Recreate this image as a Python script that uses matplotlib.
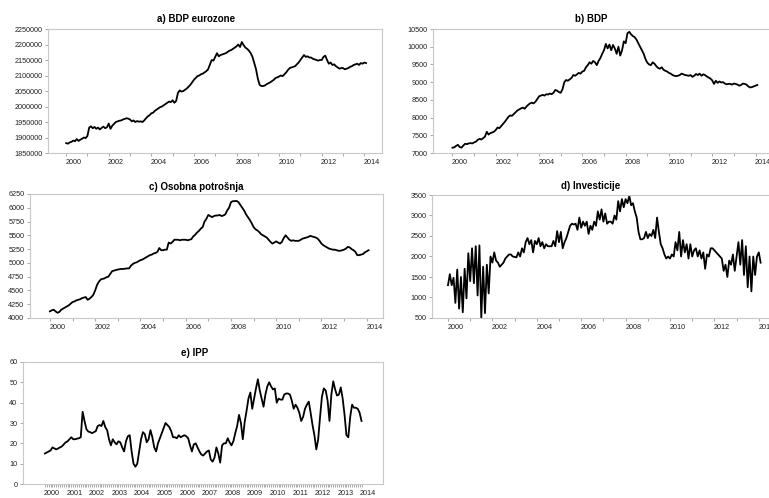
import numpy as np
import matplotlib
matplotlib.use("Agg")
import matplotlib.pyplot as plt

plt.rcParams['font.family'] = ['Liberation Sans', 'DejaVu Sans']

# ---------------- data (monthly, starting Jan 2000) ----------------
titles = ["a) BDP eurozone", "b) BDP", "c) Osobna potrošnja", "d) Investicije", "e) IPP"]

# a) euro area GDP, thousands
bdp_eurozone_k = [
    1882, 1880, 1884, 1886, 1890, 1888, 1895, 1889, 1893, 1896, 1900, 1898,
    1905, 1932, 1936, 1930, 1934, 1928, 1932, 1926, 1931, 1935, 1930, 1933,
    1945, 1928, 1938, 1944, 1950, 1952, 1954, 1955, 1958, 1960, 1962, 1961,
    1958, 1952, 1955, 1950, 1953, 1951, 1952, 1950, 1955, 1962, 1968, 1972,
    1978, 1980, 1986, 1990, 1994, 1998, 2000, 2004, 2008, 2012, 2016, 2014,
    2020, 2012, 2018, 2044, 2052, 2048, 2050, 2054, 2058, 2064, 2070, 2078,
    2086, 2092, 2098, 2100, 2104, 2106, 2110, 2114, 2120, 2135, 2150, 2148,
    2160, 2172, 2162, 2166, 2168, 2170, 2172, 2176, 2180, 2182, 2186, 2190,
    2194, 2200, 2192, 2208, 2198, 2190, 2186, 2180, 2172, 2160, 2140, 2120,
    2090, 2070, 2066, 2066, 2068, 2072, 2075, 2078, 2082, 2086, 2092, 2094,
    2097, 2100, 2098, 2104, 2110, 2118, 2124, 2126, 2128, 2130, 2136, 2142,
    2150, 2158, 2166, 2160, 2162, 2158, 2158, 2154, 2152, 2150, 2148, 2150,
    2150, 2160, 2164, 2150, 2138, 2142, 2134, 2136, 2130, 2126, 2122, 2124,
    2124, 2120, 2122, 2124, 2128, 2130, 2134, 2136, 2138, 2134, 2140, 2138,
    2142, 2140,
]

# b) GDP
bdp = [
    7150, 7160, 7200, 7230, 7170, 7150, 7210, 7260, 7250, 7270, 7280, 7270,
    7300, 7320, 7370, 7400, 7380, 7420, 7460, 7600, 7520, 7560, 7580, 7600,
    7650, 7720, 7700, 7760, 7820, 7880, 7950, 8020, 8060, 8050, 8100, 8150,
    8200, 8230, 8260, 8280, 8250, 8310, 8360, 8400, 8420, 8400, 8450, 8520,
    8600, 8620, 8640, 8620, 8660, 8650, 8680, 8660, 8700, 8780, 8760, 8720,
    8700, 8800, 9000, 9060, 9040, 9080, 9120, 9200, 9180, 9220, 9260, 9240,
    9300, 9320, 9420, 9480, 9560, 9520, 9600, 9560, 9480, 9600, 9680, 9800,
    9900, 10080, 9950, 10060, 9900, 10050, 9950, 9800, 10000, 9750, 9900, 10150,
    10100, 10380, 10420, 10350, 10300, 10270, 10200, 10100, 10000, 9900, 9800, 9650,
    9550, 9500, 9480, 9560, 9520, 9450, 9400, 9380, 9420, 9350, 9320, 9300,
    9260, 9240, 9200, 9180, 9170, 9180, 9200, 9240, 9220, 9200, 9190, 9180,
    9200, 9150, 9180, 9230, 9200, 9240, 9180, 9220, 9200, 9160, 9130, 9100,
    9050, 8950, 9040, 8980, 9020, 8990, 9000, 8960, 8940, 8950, 8950, 8930,
    8960, 8950, 8930, 8900, 8920, 8960, 8950, 8930, 8880, 8850, 8860, 8880,
    8900, 8920,
]

# c) personal consumption
osobna_potrosnja = [
    4120, 4140, 4150, 4120, 4095, 4110, 4150, 4170, 4190, 4210, 4230, 4260,
    4290, 4300, 4320, 4330, 4340, 4360, 4370, 4380, 4330, 4350, 4380, 4420,
    4500, 4600, 4660, 4700, 4710, 4720, 4740, 4750, 4800, 4850, 4860, 4870,
    4880, 4885, 4890, 4890, 4895, 4900, 4900, 4950, 4980, 5000, 5010, 5030,
    5050, 5060, 5080, 5100, 5120, 5140, 5150, 5170, 5180, 5200, 5270, 5230,
    5230, 5240, 5240, 5370, 5350, 5380, 5420, 5420, 5420, 5410, 5420, 5420,
    5420, 5410, 5420, 5430, 5480, 5510, 5550, 5580, 5620, 5650, 5750, 5800,
    5870, 5850, 5830, 5850, 5860, 5860, 5870, 5850, 5860, 5880, 5950, 6000,
    6100, 6120, 6120, 6125, 6100, 6050, 6000, 5950, 5880, 5830, 5780, 5720,
    5650, 5610, 5590, 5560, 5520, 5500, 5480, 5460, 5420, 5380, 5350, 5370,
    5390, 5370, 5350, 5380, 5450, 5500, 5460, 5420, 5400, 5410, 5400, 5400,
    5400, 5420, 5440, 5450, 5460, 5470, 5490, 5480, 5470, 5460, 5440, 5400,
    5350, 5320, 5300, 5280, 5260, 5250, 5240, 5240, 5230, 5220, 5220, 5230,
    5240, 5260, 5290, 5280, 5250, 5230, 5200, 5140, 5140, 5150, 5160, 5190,
    5210, 5230,
]

# d) investment
investicije = [
    1300, 1570, 1300, 1480, 870, 1680, 730, 1500, 640, 1700, 980, 2080,
    1400, 2200, 1350, 2250, 1050, 2270, 500, 1750, 620, 1800, 1100, 2000,
    1850, 2100, 1900, 1850, 1750, 1800, 1850, 1950, 2000, 2050, 2050, 2000,
    1990, 1980, 2100, 2000, 2200, 2100, 2350, 2450, 2300, 2400, 2100, 2380,
    2300, 2450, 2250, 2350, 2200, 2300, 2250, 2250, 2250, 2380, 2250, 2620,
    2350, 2600, 2200, 2350, 2450, 2600, 2750, 2800, 2780, 2800, 2650, 2950,
    2700, 2850, 2750, 2850, 2550, 2750, 2650, 2850, 2750, 3100, 2900, 3150,
    2850, 3050, 2800, 2850, 2850, 2800, 3000, 2900, 3350, 3100, 3400, 3200,
    3400, 3300, 3480, 3250, 3300, 3100, 2950, 2600, 2420, 2420, 2450, 2600,
    2450, 2550, 2500, 2650, 2450, 2950, 2600, 2300, 2200, 2050, 1950, 2000,
    1950, 2050, 2000, 2350, 2150, 2600, 2000, 2400, 2100, 2300, 1950, 2300,
    2000, 2150, 2200, 2000, 2150, 1950, 2100, 1700, 2050, 2000, 2200, 2200,
    2150, 2100, 2050, 2000, 1950, 1650, 1800, 1500, 1900, 1800, 2050, 1650,
    2000, 2350, 1800, 2400, 1550, 2250, 1250, 2000, 1150, 2000, 1550, 2000,
    2100, 1850,
]

# e) industrial production
ipp = [
    15, 15.5, 16, 16.5, 18, 17.5, 17, 17.5, 18, 18.5, 19.5, 20.5,
    21, 22, 23, 22, 22, 22.3, 22.5, 23, 35.5, 31, 27, 25.8,
    25.5, 25, 25.5, 26, 28.5, 29, 28.5, 31, 28, 26.5, 22, 19,
    22, 20.5, 19.5, 21, 20.5, 18, 16, 21, 23.5, 24, 16, 10,
    8.5, 10, 16, 22, 25.5, 24.5, 20.5, 22, 26.5, 23, 18, 16,
    20, 22.5, 25, 27.5, 30, 29, 28, 26, 23, 23, 22.5, 24,
    23, 23.5, 24, 23.5, 22.5, 19, 16, 19.5, 20, 18, 16, 14.5,
    14, 15, 16, 16.5, 12, 11, 13, 18, 15, 10.5, 19, 20,
    20, 22.5, 20.5, 19, 21, 25, 28.5, 34, 30, 22, 30.5, 36,
    42, 45, 37, 42, 47, 51.5, 46, 42, 38, 44, 48, 50,
    48, 46.5, 47, 40, 42, 41.5, 41.5, 44, 44.5, 44.5, 44, 41,
    37, 39, 37.5, 35, 31, 33, 37, 39, 40.5, 35, 29, 24,
    17, 22, 33, 43, 47, 46, 41, 31, 44, 50.5, 46.5, 43.5,
    44, 47.5, 42, 34, 24, 23, 33, 39, 37.5, 37.5, 37, 35,
    31,
]

yticks_a = [1850000, 1900000, 1950000, 2000000, 2050000, 2100000, 2150000, 2200000, 2250000]
yticks_b = [7000, 7500, 8000, 8500, 9000, 9500, 10000, 10500]
yticks_c = [4000, 4250, 4500, 4750, 5000, 5250, 5500, 5750, 6000, 6250]
yticks_d = [500, 1000, 1500, 2000, 2500, 3000, 3500]
yticks_e = [0, 10, 20, 30, 40, 50, 60]
label_years_2 = [2000, 2002, 2004, 2006, 2008, 2010, 2012, 2014]
label_years_1 = list(range(2000, 2015))

# ---------------- figure ----------------
W, H = 769, 498
fig = plt.figure(figsize=(W / 100, H / 100), dpi=100)


def add_ax(l, r, t, b):
    return fig.add_axes([l / W, 1 - b / H, (r - l) / W, (b - t) / H])


def months(values):
    return 2000 + np.arange(len(values)) / 12.0


SPINE = '#c8c8c8'
TICK = '#9a9a9a'
TXT = '#222222'
FS = 5.2


def style(ax, xlim, ylim, yticks, label_years, label_off, minor):
    ax.set_xlim(*xlim)
    ax.set_ylim(*ylim)
    for s in ax.spines.values():
        s.set_color(SPINE)
        s.set_linewidth(0.8)
    ax.set_yticks(yticks)
    ax.set_yticklabels([str(v) for v in yticks])
    ax.tick_params(axis='y', length=2.5, width=0.6, color=TICK, labelsize=FS,
                   pad=1.5, labelcolor=TXT)
    ax.set_xticks([y + label_off for y in label_years])
    ax.set_xticklabels([str(y) for y in label_years])
    ax.set_xticks(minor, minor=True)
    ax.tick_params(axis='x', which='major', length=0, pad=4.5, labelsize=FS,
                   labelcolor=TXT)
    ax.tick_params(axis='x', which='minor', length=2.5, width=0.6, color=TICK)


LW = 1.3
year_ticks = list(range(2000, 2015))

# a
ax = add_ax(48, 382, 29, 153)
ax.plot(months(bdp_eurozone_k), np.array(bdp_eurozone_k) * 1000, color='black', lw=LW)
style(ax, (1999.15, 2014.83), (1850000, 2250000), yticks_a, label_years_2, 0.35, year_ticks)

# b
ax = add_ax(433, 775, 29, 153)
ax.plot(months(bdp), bdp, color='black', lw=LW)
style(ax, (1999.1, 2014.9), (7000, 10500), yticks_b, label_years_2, 0.35, year_ticks)

# c
ax = add_ax(30, 383, 194, 318)
ax.plot(months(osobna_potrosnja), osobna_potrosnja, color='black', lw=LW)
style(ax, (1999.12, 2014.72), (4000, 6250), yticks_c, label_years_2, 0.35, year_ticks)

# d
ax = add_ax(432, 775, 195, 318)
ax.plot(months(investicije), investicije, color='black', lw=LW)
style(ax, (1999.28, 2014.73), (500, 3500), yticks_d, label_years_2, 0.35, year_ticks)

# e
ax = add_ax(23, 383, 362, 484)
ax.plot(months(ipp), ipp, color='black', lw=LW)
month_ticks = list(2000 + np.arange(0, 14 * 12 + 1) / 12.0)
style(ax, (1999.03, 2014.95), (0, 60), yticks_e, label_years_1, 0.3, month_ticks)

# titles
fig.text(196 / W, 1 - 18.5 / H, titles[0], ha='center', va='center', fontsize=7, fontweight='bold')
fig.text(591 / W, 1 - 18.5 / H, titles[1], ha='center', va='center', fontsize=7, fontweight='bold')
fig.text(196 / W, 1 - 187 / H, titles[2], ha='center', va='center', fontsize=7, fontweight='bold')
fig.text(591 / W, 1 - 186 / H, titles[3], ha='center', va='center', fontsize=7, fontweight='bold')
fig.text(195 / W, 1 - 353 / H, titles[4], ha='center', va='center', fontsize=7, fontweight='bold')

fig.savefig('out.png', dpi=100)
